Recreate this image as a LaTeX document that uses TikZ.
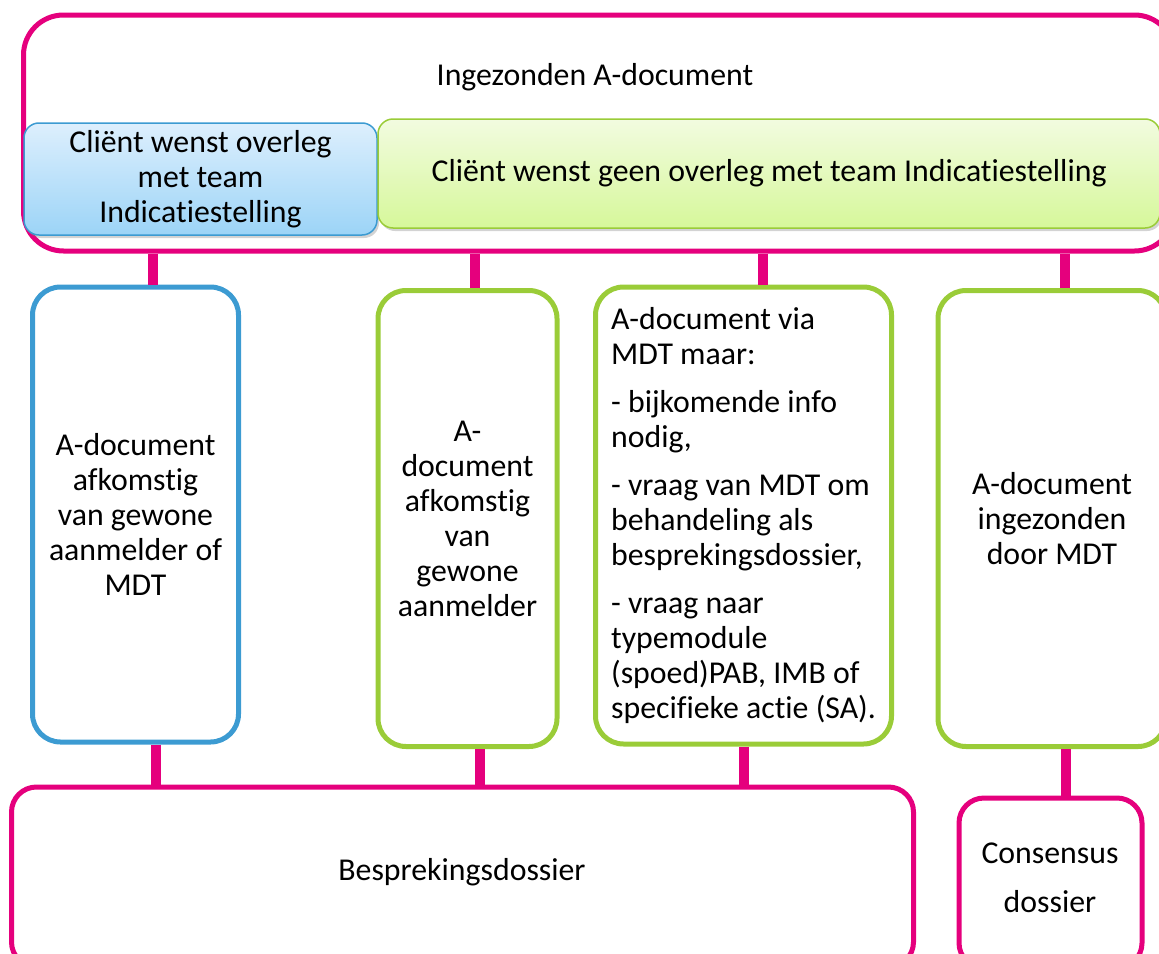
\documentclass[tikz,border=0pt]{standalone}
\usepackage{fontspec}
\setmainfont{Carlito}[Ligatures=NoCommon]
\usetikzlibrary{shadows}
\definecolor{mag}{HTML}{E5007D}
\definecolor{bluebd}{HTML}{3C9BD2}
\definecolor{bluetop}{HTML}{DDEFFD}
\definecolor{bluebot}{HTML}{9CD4F7}
\definecolor{greenbd}{HTML}{9ACC38}
\definecolor{greentop}{HTML}{F2FBE0}
\definecolor{greenbot}{HTML}{D6F89A}
\tikzset{
  txt/.style={font=\fontsize{31.8}{35}\selectfont, align=center},
  box/.style={draw, rectangle, line width=5pt, rounded corners=28pt, inner sep=0pt, txt},
  magbox/.style={box, draw=mag, rounded corners=40pt},
  bluebox/.style={box, draw=bluebd},
  greenbox/.style={box, draw=greenbd},
  gradbox/.style={draw, rectangle, line width=1.5pt, rounded corners=15pt, inner sep=0pt, txt,
     drop shadow={opacity=0.35, shadow xshift=2pt, shadow yshift=-3pt}},
  conn/.style={draw=mag, line width=10pt}
}
\begin{document}
\begin{tikzpicture}[x=1pt,y=-1pt]
\useasboundingbox (0,0) rectangle (1159,953);
\clip (0,0) rectangle (1159,953);
% outer box
\node[magbox, minimum width=1151pt, minimum height=236pt] (outer) at (599,133) {};
\node[txt] (title) at (595,77) {Ingezonden A-document};
% header boxes
\node[gradbox, draw=bluebd, top color=bluetop, bottom color=bluebot,
      minimum width=353pt, minimum height=112pt] (wens) at (200.5,179)
      {Cliënt wenst overleg\\met team\\Indicatiestelling};
\node[gradbox, draw=greenbd, top color=greentop, bottom color=greenbot,
      minimum width=782pt, minimum height=109pt] (geen) at (769,173.5)
      {Cliënt wenst geen overleg met team Indicatiestelling};
% middle boxes
\node[bluebox, minimum width=206pt, minimum height=455pt] (b1) at (135.5,514.5)
      {A-document\\afkomstig\\van gewone\\aanmelder of\\MDT};
\node[greenbox, minimum width=179pt, minimum height=456pt] (b2) at (467.5,518.5)
      {A-\\document\\afkomstig\\van\\gewone\\aanmelder};
\node[greenbox, minimum width=296pt, minimum height=457pt] (b3) at (743.5,515.5)
      [align=left]
      {A-document via\\MDT maar:\\[13pt]- bijkomende info\\nodig,\\[13pt]- vraag van MDT om\\behandeling als\\besprekingsdossier,\\[13pt]- vraag naar\\typemodule\\(spoed)PAB, IMB of\\specifieke actie (SA).};
\node[greenbox, minimum width=228pt, minimum height=456pt] (b4) at (1052,518.5)
      {A-document\\ingezonden\\door MDT};
% bottom boxes
\node[magbox, rounded corners=25pt, minimum width=902pt, minimum height=180pt] (bd) at (462.5,877)
      {};
\node[txt] (bdt) at (462,872) {Besprekingsdossier};
\node[magbox, rounded corners=25pt, minimum width=183pt, minimum height=170pt] (cd) at (1050.5,883)
      {};
\node[txt] (cdt) at (1050,877.5) {Consensus\\[14pt]dossier};
% connectors
\coordinate (u1) at (153,0);
\coordinate (u2) at (475,0);
\coordinate (u3) at (763,0);
\coordinate (u4) at (1065,0);
\coordinate (l1) at (156,0);
\coordinate (l2) at (480,0);
\coordinate (l3) at (744,0);
\coordinate (l4) at (1066,0);
\draw[conn] (outer.south -| u1) -- (b1.north -| u1);
\draw[conn] (outer.south -| u2) -- (b2.north -| u2);
\draw[conn] (outer.south -| u3) -- (b3.north -| u3);
\draw[conn] (outer.south -| u4) -- (b4.north -| u4);
\draw[conn] (b1.south -| l1) -- (bd.north -| l1);
\draw[conn] (b2.south -| l2) -- (bd.north -| l2);
\draw[conn] (b3.south -| l3) -- (bd.north -| l3);
\draw[conn] (b4.south -| l4) -- (cd.north -| l4);
\end{tikzpicture}
\end{document}
